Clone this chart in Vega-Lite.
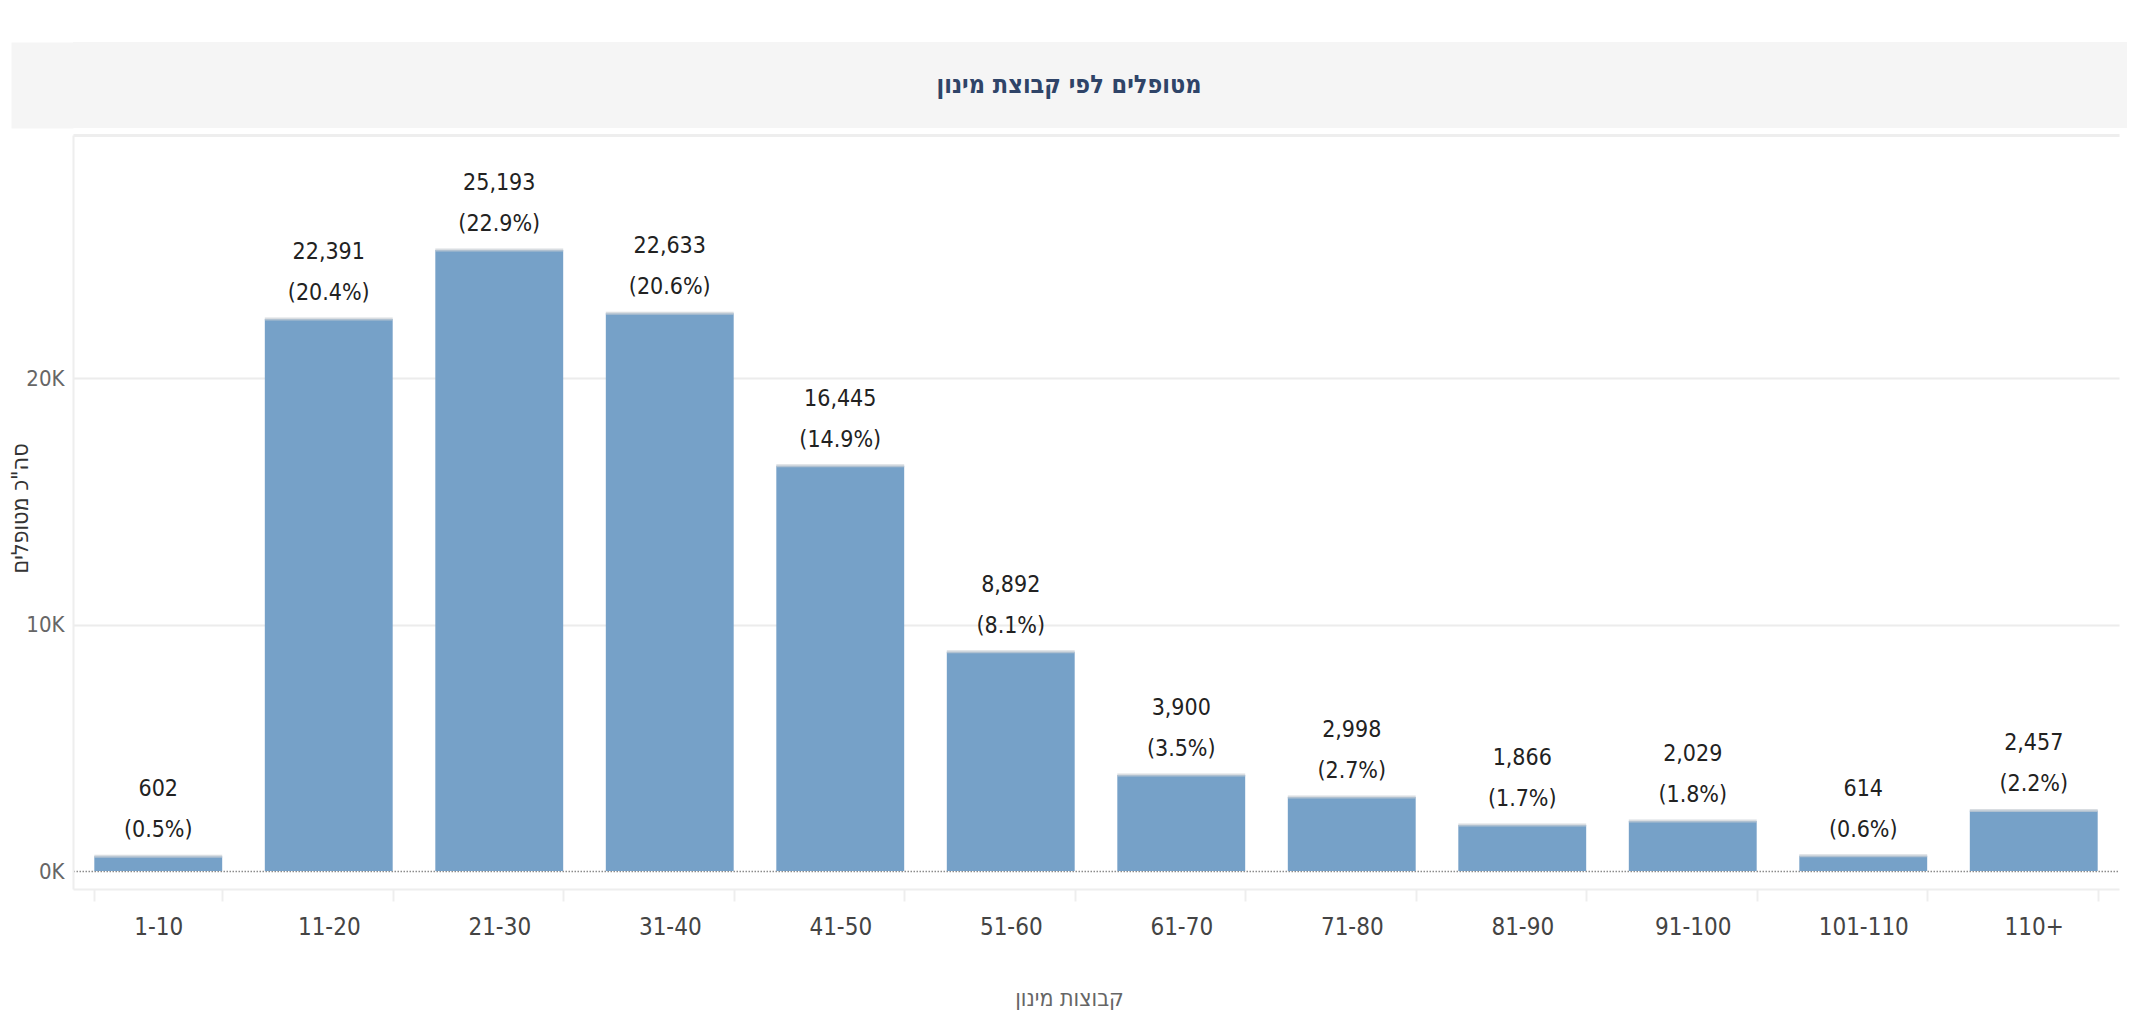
{
  "$schema": "https://vega.github.io/schema/vega-lite/v6.json",
  "padding": {"left": 9, "top": 42, "right": 0, "bottom": 0},
  "background": "#ffffff",
  "spacing": 7,
  "config": {
    "view": {"stroke": null},
    "font": "DejaVu Sans Condensed, Liberation Sans, sans-serif"
  },
  "vconcat": [
    {
      "width": 2054,
      "height": 86,
      "view": {"fill": "#f5f5f5", "stroke": null},
      "data": {"values": [{"title": "מטופלים לפי קבוצת מינון"}]},
      "mark": {"type": "text", "fontSize": 25, "fontWeight": "bold", "color": "#2f4468", "dx": -31, "baseline": "middle"},
      "encoding": {
        "text": {"field": "title"},
        "y": {
          "datum": "t",
          "type": "nominal",
          "axis": {"domain": true, "domainColor": "#f5f5f5", "domainWidth": 62, "offset": 31, "ticks": false, "labels": false, "grid": false, "title": null}
        }
      }
    },
    {
      "width": 2046,
      "height": 754,
      "data": {
        "values": [
          {"group": "1-10", "count": 602, "pct": 0.5},
          {"group": "11-20", "count": 22391, "pct": 20.4},
          {"group": "21-30", "count": 25193, "pct": 22.9},
          {"group": "31-40", "count": 22633, "pct": 20.6},
          {"group": "41-50", "count": 16445, "pct": 14.9},
          {"group": "51-60", "count": 8892, "pct": 8.1},
          {"group": "61-70", "count": 3900, "pct": 3.5},
          {"group": "71-80", "count": 2998, "pct": 2.7},
          {"group": "81-90", "count": 1866, "pct": 1.7},
          {"group": "91-100", "count": 2029, "pct": 1.8},
          {"group": "101-110", "count": 614, "pct": 0.6},
          {"group": "110+", "count": 2457, "pct": 2.2}
        ]
      },
      "encoding": {
        "y": {
          "field": "count",
          "type": "quantitative",
          "title": "סה\"כ מטופלים",
          "scale": {"domain": [-730, 29860], "nice": false, "zero": false},
          "axis": {
            "values": [0, 10000, 20000],
            "labelExpr": "format(datum.value / 1000, 'd') + 'K'",
            "domain": true,
            "domainColor": "#eeeeee",
            "domainWidth": 2,
            "ticks": false,
            "labelPadding": 9,
            "labelFontSize": 22,
            "labelColor": "#666666",
            "labelBaseline": "middle",
            "grid": true,
            "gridColor": {"condition": {"test": "datum.value === 0", "value": "#8c8c8c"}, "value": "#ececec"},
            "gridDash": {"condition": {"test": "datum.value === 0", "value": [1.5, 1.5]}, "value": []},
            "gridWidth": {"condition": {"test": "datum.value === 0", "value": 1.5}, "value": 2},
            "titleFontSize": 23,
            "titleFontWeight": "normal",
            "titleColor": "#333333",
            "titleAngle": -90,
            "titleX": -53,
            "titleY": 373,
            "titleAlign": "center",
            "titleBaseline": "middle"
          }
        }
      },
      "layer": [
        {
          "mark": {"type": "bar", "color": "#76a1c8"},
          "encoding": {
            "x": {
              "field": "group",
              "type": "nominal",
              "sort": null,
              "title": "קבוצות מינון",
              "scale": {"paddingInner": 0.25, "paddingOuter": 0.125},
              "axis": {
                "orient": "bottom",
                "labelAngle": 0,
                "domain": true,
                "domainColor": "#eeeeee",
                "domainWidth": 2,
                "tickBand": "extent",
                "ticks": true,
                "tickColor": "#eeeeee",
                "tickWidth": 2,
                "tickSize": 12,
                "labelPadding": 14,
                "labelFontSize": 24,
                "labelColor": "#444444",
                "labelBaseline": "top",
                "grid": false,
                "titleFontSize": 23,
                "titleFontWeight": "normal",
                "titleColor": "#666666",
                "titleX": 996,
                "titleY": 109,
                "titleAlign": "center",
                "titleBaseline": "middle"
              }
            }
          }
        },
        {
          "mark": {"type": "tick", "color": "#c9ced4", "thickness": 3},
          "encoding": {
            "x": {
              "field": "group",
              "type": "nominal",
              "sort": null,
              "axis": {"orient": "top", "domain": true, "domainColor": "#eeeeee", "domainWidth": 3, "labels": false, "ticks": false, "grid": false, "title": null}
            }
          }
        },
        {
          "mark": {
            "type": "text",
            "baseline": "bottom",
            "dy": -55,
            "fontSize": 23,
            "lineHeight": 41,
            "color": "#222222",
            "text": {"expr": "[format(datum.count, ','), '(' + format(datum.pct, '.1f') + '%)']"}
          },
          "encoding": {
            "x": {"field": "group", "type": "nominal", "sort": null, "axis": null}
          }
        }
      ],
      "resolve": {"axis": {"x": "independent"}}
    }
  ]
}
